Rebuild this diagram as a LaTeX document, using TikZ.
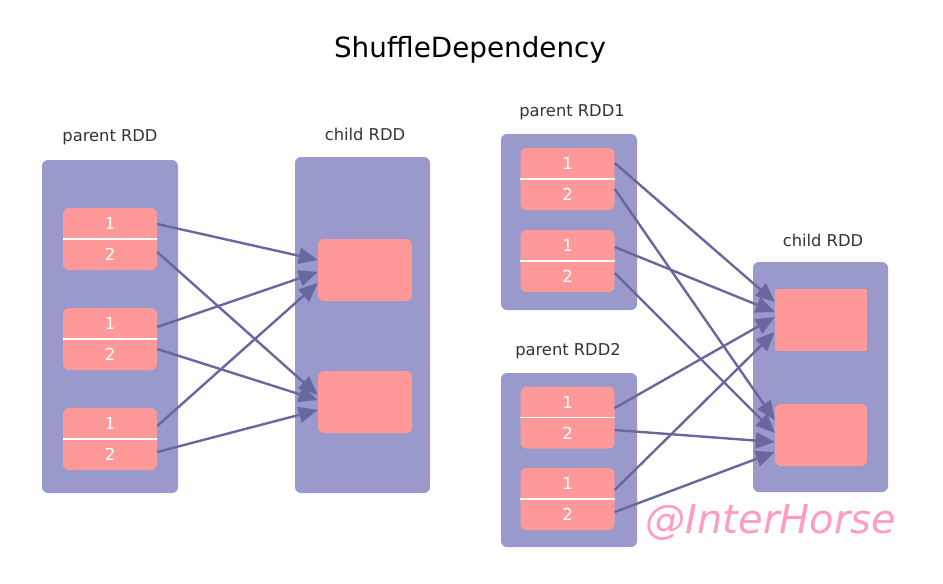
\documentclass[tikz,border=0pt]{standalone}
\usepackage{fontspec}
\setmainfont{DejaVu Sans}
\usetikzlibrary{arrows.meta,calc}
\definecolor{boxc}{HTML}{9999CC}
\definecolor{partc}{HTML}{FF9999}
\definecolor{arrc}{HTML}{68689E}
\definecolor{wmc}{HTML}{FF9CC4}
\definecolor{txtc}{HTML}{333333}
\tikzset{
  rddbox/.style={fill=boxc, draw=none, rounded corners=6pt, inner sep=0pt},
  part/.style={fill=partc, draw=none, rounded corners=6pt, inner sep=0pt, minimum width=94pt, minimum height=62pt},
  sqpart/.style={fill=partc, draw=none, inner sep=0pt, minimum width=92pt, minimum height=62pt},
  divl/.style={draw=white, line width=1.2pt},
  num/.style={text=white, font=\fontsize{16.5}{16.5}\selectfont, inner sep=0pt},
  lbl/.style={text=txtc, font=\fontsize{16.3}{16.3}\selectfont, inner sep=0pt},
  arr/.style={draw=arrc, line width=2.4pt, -{Triangle[length=19pt,width=16pt]}},
}
\newcommand\mkpart[3]{%
  \node[part] (#1) at (#2,#3) {};
  \draw[divl] (#1.west) -- (#1.east);
  \node[num] (#1a) at ([yshift=15.5pt]#1.center) {1};
  \node[num] (#1b) at ([yshift=-15.5pt]#1.center) {2};
}
\begin{document}
\begin{tikzpicture}[x=1pt,y=-1pt]
\useasboundingbox (0,0) rectangle (943,584);
\node[text=black, font=\fontsize{27.8}{27.8}\selectfont, inner sep=0pt] (title) at (470,50) {ShuffleDependency};

% left group
\node[lbl] (lpl) at (110,137) {parent RDD};
\node[lbl] (lcl) at (365,134) {child RDD};
\node[rddbox, minimum width=136pt, minimum height=333pt] (LP) at (110,326.5) {};
\node[rddbox, minimum width=135pt, minimum height=336pt] (LC) at (362.5,325) {};
\mkpart{L1}{110}{239}
\mkpart{L2}{110}{339}
\mkpart{L3}{110}{439}
\node[part] (C1) at (365,270) {};
\node[part] (C2) at (365,402) {};

% right group
\node[lbl] (r1l) at (572,112) {parent RDD1};
\node[lbl] (r2l) at (568,351) {parent RDD2};
\node[lbl] (rcl) at (823,240) {child RDD};
\node[rddbox, minimum width=136pt, minimum height=176pt] (RP1) at (569,222) {};
\node[rddbox, minimum width=136pt, minimum height=174pt] (RP2) at (569,460) {};
\node[rddbox, minimum width=135pt, minimum height=230pt] (RC) at (820.5,377) {};
\mkpart{R11}{567.5}{179}
\mkpart{R12}{567.5}{261}
\mkpart{R21}{567.5}{417.5}
\mkpart{R22}{567.5}{499}
\node[sqpart] (RC1) at (821,320) {};
\node[part, minimum width=92pt] (RC2) at (821,435) {};

% left arrows
\draw[arr] ([yshift=15pt]L1.east) -- ([yshift=10pt]C1.west);
\draw[arr] ([yshift=-13pt]L1.east) -- ([yshift=7pt]C2.west);
\draw[arr] ([yshift=12pt]L2.east) -- ([yshift=-2pt]C1.west);
\draw[arr] ([yshift=-10pt]L2.east) -- ([yshift=2pt]C2.west);
\draw[arr] ([yshift=13pt]L3.east) -- ([yshift=-13pt]C1.west);
\draw[arr] ([yshift=-13pt]L3.east) -- ([yshift=-8pt]C2.west);

% right arrows
\draw[arr] ([yshift=16pt]R11.east) -- ([yshift=18pt]RC1.west);
\draw[arr] ([yshift=-10pt]R11.east) -- ([yshift=15pt]RC2.west);
\draw[arr] ([yshift=14pt]R12.east) -- ([yshift=8pt]RC1.west);
\draw[arr] ([yshift=-12pt]R12.east) -- ([yshift=2pt]RC2.west);
\draw[arr] ([yshift=9.5pt]R21.east) -- ([yshift=3pt]RC1.west);
\draw[arr] ([yshift=-12.5pt]R21.east) -- ([yshift=-7pt]RC2.west);
\draw[arr] ([yshift=9pt]R22.east) -- ([yshift=-12pt]RC1.west);
\draw[arr] ([yshift=-13pt]R22.east) -- ([yshift=-17pt]RC2.west);

% watermark
\node[text=wmc, font=\fontsize{40}{40}\selectfont\itshape, inner sep=0pt] (wm) at (771,522) {@InterHorse};
\end{tikzpicture}
\end{document}
